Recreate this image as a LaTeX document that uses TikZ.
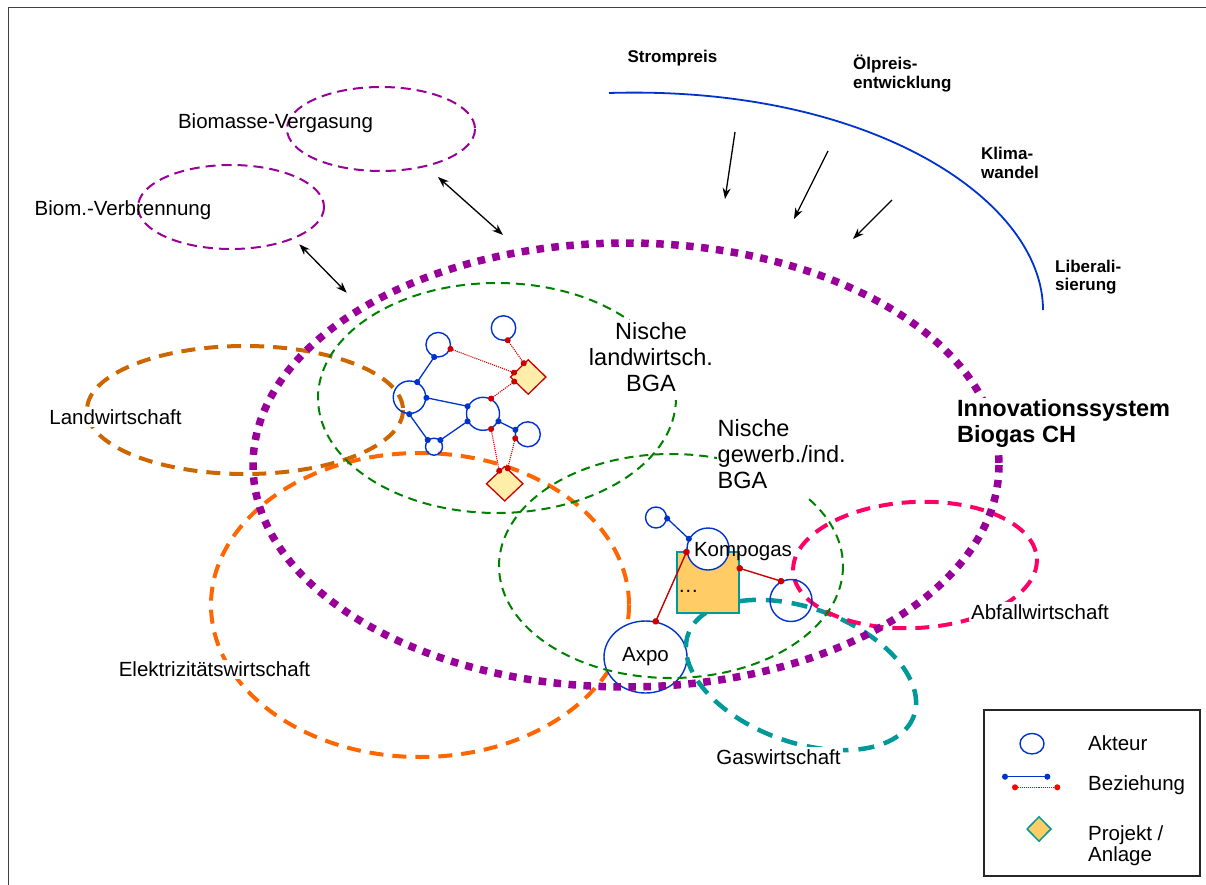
\documentclass[tikz,border=0pt]{standalone}
\usepackage{fontspec}
\setmainfont{Liberation Sans}
\usetikzlibrary{shapes.geometric,arrows.meta}
\definecolor{purp}{HTML}{990099}
\definecolor{grn}{HTML}{008000}
\definecolor{brn}{HTML}{CC6600}
\definecolor{orng}{HTML}{FF6600}
\definecolor{tealc}{HTML}{009999}
\definecolor{pinkc}{HTML}{FF0066}
\definecolor{netblue}{HTML}{0033CC}
\definecolor{netred}{HTML}{CC0000}
\definecolor{lgred}{HTML}{FF0000}
\definecolor{boxfill}{HTML}{FFCC66}
\definecolor{diafill}{HTML}{FFEEAA}
\definecolor{framec}{HTML}{404040}
\begin{document}
\begin{tikzpicture}[x=1pt,y=-1pt,
  lbl/.style={font=\fontsize{20.5}{23}\selectfont, inner sep=0pt, anchor=base},
  lblw/.style={lbl, fill=white, inner sep=2pt},
  toplbl/.style={font=\fontsize{17}{18.8}\selectfont\bfseries, inner sep=0pt, anchor=base west},
  nischelbl/.style={font=\fontsize{23.5}{26}\selectfont, fill=white, inner sep=1pt},
  akteur/.style={circle, draw=netblue, line width=1.4pt, inner sep=0pt},
  netdia/.style={diamond, draw=netred, fill=diafill, line width=1.3pt, inner sep=0pt, minimum width=36pt, minimum height=35pt},
  blueedge/.style={draw=netblue, line width=1.3pt, {Circle[length=6pt]}-{Circle[length=6pt]}, shorten <=-3pt, shorten >=-3pt},
  rededge/.style={draw=netred, line width=1.1pt, densely dotted, {Circle[length=6pt]}-{Circle[length=6pt]}, shorten <=-3pt, shorten >=-3pt},
  redsolid/.style={draw=netred, line width=1.4pt, {Circle[length=6.5pt]}-{Circle[length=6.5pt]}, shorten <=-3.25pt, shorten >=-3.25pt},
  arrowk/.style={draw=black, line width=1.3pt, -{Stealth[length=11pt,width=8pt]}},
  darrowk/.style={draw=black, line width=1.3pt, {Stealth[length=11pt,width=8pt]}-{Stealth[length=11pt,width=8pt]}},
  ellthin/.style={draw=purp, line width=2pt, dash pattern=on 10pt off 6pt},
  ellgreen/.style={draw=grn, line width=2pt, dash pattern=on 9pt off 6pt},
  ellthick/.style={line width=4pt, dash pattern=on 14pt off 9pt},
  bigpurp/.style={draw=purp, line width=7.5pt, dash pattern=on 7.5pt off 7.5pt}
]
\useasboundingbox (0,0) rectangle (1206,885);
% frame (left and top edges)
\draw[framec, line width=1.6pt] (8.5,900) -- (8.5,7.5) -- (1230,7.5);

% sector ellipses (lower layer)
\draw[ellthick, draw=brn] (245,410) ellipse (158 and 64);
\draw[ellthick, draw=orng] (420,605) ellipse (209 and 152);

% Axpo actor (covers the orange line)
\node[akteur, shape=ellipse, fill=white, minimum width=83pt, minimum height=72pt, font=\fontsize{20.5}{23}\selectfont] (axpo) at (645.5,657) {Axpo};

\draw[ellthick, draw=tealc, line width=4.5pt, dash pattern=on 16pt off 10pt, rotate around={-20:(801,675)}] (801,675) ellipse (120 and 67);
\draw[ellthick, draw=pinkc, rotate around={3:(915,565)}] (915,565) ellipse (122 and 63);

% niches
\draw[ellgreen] (497,398) ellipse (179 and 115);
\draw[ellgreen] (671,566) ellipse (172 and 112);

% biomass technologies
\draw[ellthin] (381,129) ellipse (94 and 42);
\draw[ellthin] (231,207) ellipse (93 and 42);

% innovation system
\draw[bigpurp] (626,465) ellipse (373 and 222);

% Kompogas cluster
\node[draw=tealc, fill=boxfill, line width=1.5pt, minimum width=62pt, minimum height=61pt, inner sep=0pt] (proj) at (708,582.5) {};
\node[lbl, anchor=base west] (dots) at (678,592) {…};
\node[akteur, fill=white, minimum size=42pt] (komp) at (708,549) {};
\node[lbl] (kompt) at (743,556) {Kompogas};
\node[akteur, minimum size=21pt] (s1) at (656,517.5) {};
\node[akteur, minimum size=42pt] (c2) at (791,600.5) {};
\draw[blueedge] (s1.-5) -- (komp.152);
\draw[redsolid] (komp.188) -- (axpo.74);
\draw[redsolid] (proj.24) -- (c2.117);

% network in agricultural niche
\node[akteur, minimum size=24.5pt] (N1) at (438.2,344.7) {};
\node[akteur, minimum size=24.5pt] (N2) at (503.5,328) {};
\node[akteur, minimum size=32.5pt] (N3) at (409.5,397.2) {};
\node[akteur, minimum size=33pt] (N4) at (483,413.8) {};
\node[akteur, minimum size=25pt] (N5) at (527.8,434.3) {};
\node[akteur, minimum size=17pt] (N6) at (434,446.7) {};
\node[netdia] (D1) at (528.2,377) {};
\node[netdia, minimum width=37pt] (D2) at (504.7,483.7) {};
\draw[blueedge] (N1.-108) -- (N3.63);
\draw[blueedge] (N3.-2) -- (N4.154);
\draw[blueedge] (N3.-91) -- (N6.133);
\draw[blueedge] (N6.46) -- (N4.-154);
\draw[blueedge] (N4.-26) -- (N5.160);
\draw[rededge] (N1.-19) -- (D1.163);
\draw[rededge] (N2.-71) -- (D1.108);
\draw[rededge] (N4.62) -- (D1.-162);
\draw[rededge] (N4.-62) -- (D2.113);
\draw[rededge] (N5.-162) -- (D2.79);

% labels
\node[lbl] (tVerg) at (275.5,128.5) {Biomasse-Vergasung};
\node[lbl] (tVerb) at (123,216) {Biom.-Verbrennung};
\node[lblw] (tLand) at (115.5,424.3) {Landwirtschaft};
\node[lblw] (tElek) at (214.5,676.7) {Elektrizitätswirtschaft};
\node[lblw] (tGas) at (778.5,764.3) {Gaswirtschaft};
\node[lblw] (tAbf) at (1040,619) {Abfallwirtschaft};
\node[nischelbl, anchor=base] (tN1) at (651,339.3) {\begin{tabular}[t]{@{}c@{}}Nische\\landwirtsch.\\BGA\end{tabular}};
\node[nischelbl, anchor=base west] (tN2) at (716.5,436) {\begin{tabular}[t]{@{}l@{}}Nische\\gewerb./ind.\\BGA\end{tabular}};
\node[font=\fontsize{23.5}{25.3}\selectfont\bfseries, fill=white, inner sep=1pt, anchor=base west] (tInno) at (956,416.7) {\begin{tabular}[t]{@{}l@{}}Innovationssystem\\Biogas CH\end{tabular}};

% landscape
\draw[netblue, line width=1.8pt] (609,93) .. controls (870,85) and (1043,200) .. (1043,310);
\node[toplbl, anchor=base] (tStrom) at (672.5,62.7) {Strompreis};
\node[toplbl] (tOel) at (853,69.3) {\begin{tabular}[t]{@{}l@{}}Ölpreis-\\entwicklung\end{tabular}};
\node[toplbl] (tKlima) at (981,160) {\begin{tabular}[t]{@{}l@{}}Klima-\\wandel\end{tabular}};
\node[toplbl] (tLib) at (1055,272) {\begin{tabular}[t]{@{}l@{}}Liberali-\\sierung\end{tabular}};
\coordinate (a1s) at (735,132); \coordinate (a1e) at (725,199);
\coordinate (a2s) at (828,151); \coordinate (a2e) at (794,219);
\coordinate (a3s) at (892,200); \coordinate (a3e) at (853,239);
\draw[arrowk] (a1s) -- (a1e);
\draw[arrowk] (a2s) -- (a2e);
\draw[arrowk] (a3s) -- (a3e);
\coordinate (d1a) at (438,177); \coordinate (d1b) at (503,235);
\coordinate (d2a) at (299.3,244.3); \coordinate (d2b) at (346.7,292.7);
\draw[darrowk] (d1a) -- (d1b);
\draw[darrowk] (d2a) -- (d2b);

% legend
\node[draw=black!85, line width=1.1pt, minimum width=216pt, minimum height=166pt, inner sep=0pt] (legend) at (1092,793) {};
\node[akteur, shape=ellipse, minimum width=24pt, minimum height=20.5pt] (lgA) at (1032,743.7) {};
\node[lbl, anchor=base west] (lgAt) at (1088,750) {Akteur};
\coordinate (lb1) at (1005,776.7); \coordinate (lb2) at (1047.3,776.7);
\coordinate (lr1) at (1015,787.3); \coordinate (lr2) at (1057.3,787.3);
\draw[blueedge] (lb1) -- (lb2);
\draw[rededge, draw=lgred] (lr1) -- (lr2);
\node[lbl, anchor=base west] (lgBt) at (1088,790) {Beziehung};
\node[diamond, draw=tealc, fill=boxfill, line width=1.5pt, inner sep=0pt, minimum width=24.5pt, minimum height=25pt] (lgD) at (1039,829) {};
\node[lbl, anchor=base west, font=\fontsize{20.5}{21}\selectfont] (lgDt) at (1088,840.7) {\begin{tabular}[t]{@{}l@{}}Projekt /\\Anlage\end{tabular}};
\end{tikzpicture}
\end{document}
